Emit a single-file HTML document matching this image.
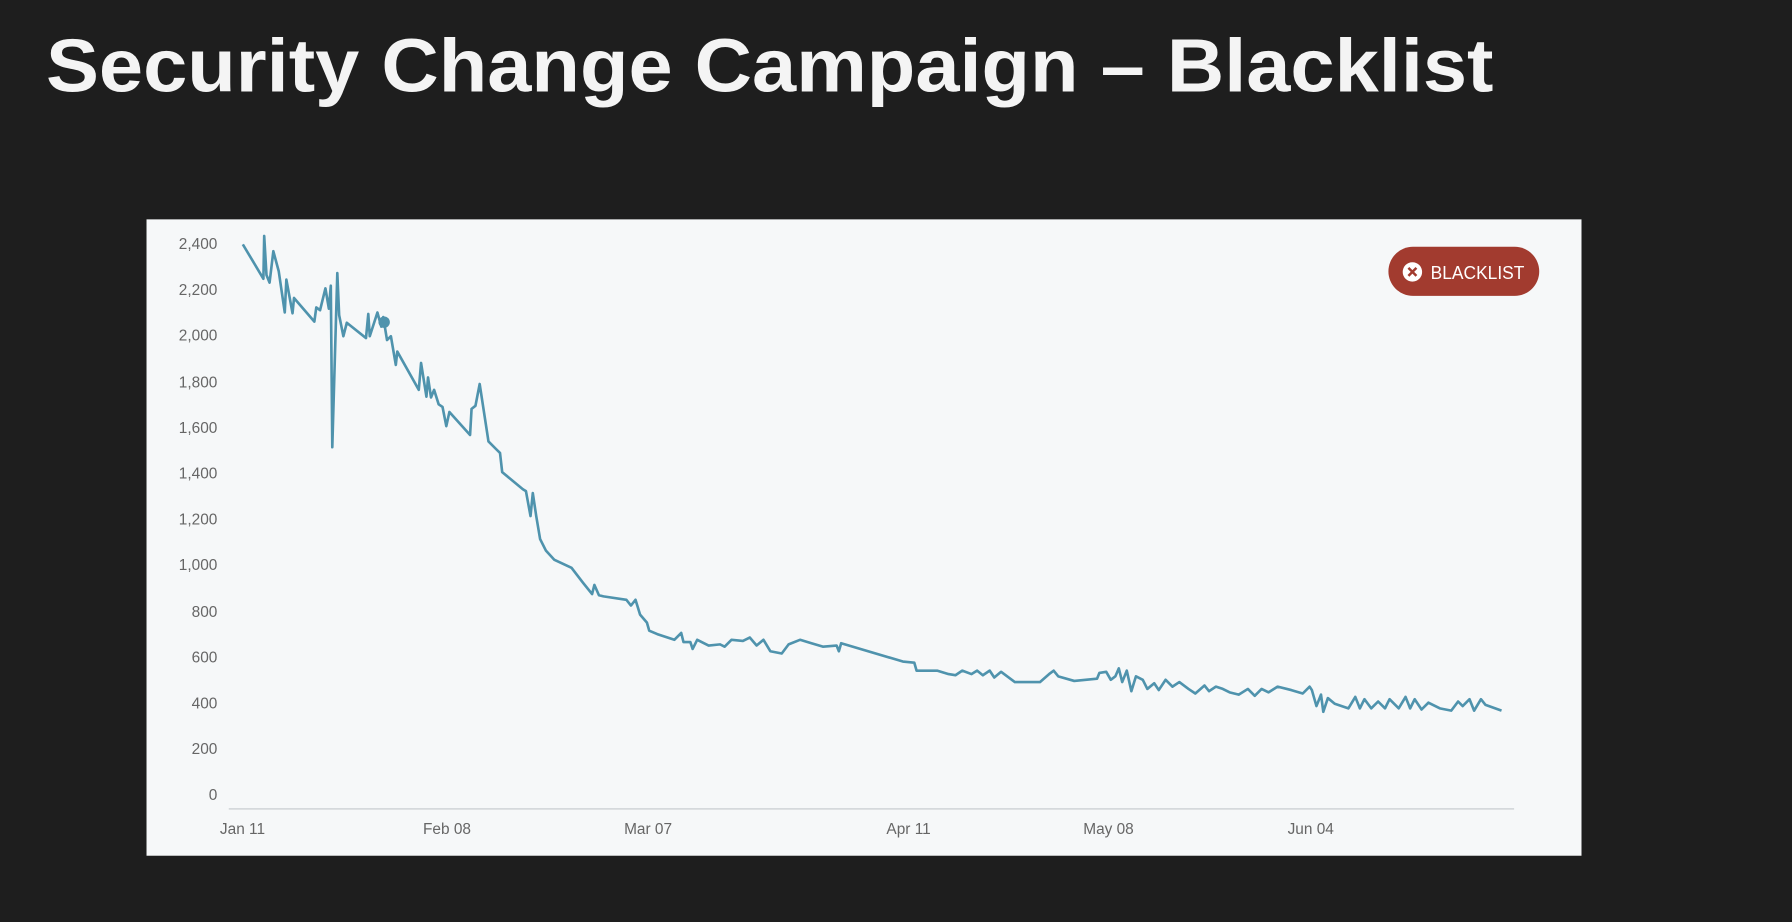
<!DOCTYPE html>
<html><head><meta charset="utf-8"><style>
html,body{margin:0;padding:0;background:#1e1e1e;width:1792px;height:922px;overflow:hidden}
</style></head><body>
<svg width="1792" height="922" viewBox="0 0 1568 807" xmlns="http://www.w3.org/2000/svg" style="display:block">
<rect width="1568" height="807" fill="#1e1e1e"/>
<text x="40" y="80" font-family="Liberation Sans, sans-serif" font-weight="bold" font-size="66" fill="#f4f4f4" textLength="1267" lengthAdjust="spacingAndGlyphs">Security Change Campaign –  Blacklist</text>
<rect x="128" y="192" width="1256" height="557" fill="#f6f8f9"/>
<g font-family="Liberation Sans, sans-serif" font-size="13.5" fill="#666" text-anchor="end">
<text x="190" y="218">2,400</text><text x="190" y="258">2,200</text><text x="190" y="298">2,000</text>
<text x="190" y="339">1,800</text><text x="190" y="379">1,600</text><text x="190" y="419">1,400</text>
<text x="190" y="459">1,200</text><text x="190" y="499">1,000</text><text x="190" y="540">800</text>
<text x="190" y="580">600</text><text x="190" y="620">400</text><text x="190" y="660">200</text>
<text x="190" y="700">0</text>
</g>
<line x1="200" y1="708" x2="1325" y2="708" stroke="#d5d9dc" stroke-width="1.5"/>
<g font-family="Liberation Sans, sans-serif" font-size="13.5" fill="#666" text-anchor="middle">
<text x="212" y="730">Jan 11</text><text x="391" y="730">Feb 08</text><text x="567" y="730">Mar 07</text>
<text x="795" y="730">Apr 11</text><text x="970" y="730">May 08</text><text x="1147" y="730">Jun 04</text>
</g>
<polyline fill="none" stroke="#4f93ad" stroke-width="2.3" stroke-linejoin="round" points="212.3,213.9 230.3,244 231,206.5 233,240.7 235.7,247.4 239,219.9 243.7,237.3 249,273.5 250.4,244.7 255.8,274.2 257.1,260.8 274.9,281.5 276.6,269.1 279.9,271.5 284.6,252.4 287.6,270.2 289.3,250.1 290.6,391.4 295,239 296.6,275.8 300.3,294.3 303.3,282.5 320.1,295.9 322.1,274.8 323.4,294.3 330.1,273.5 333.5,285.9 335.2,277.5 338.5,297.6 341.9,294.3 346.2,319.4 347.5,307.7 366.3,341.2 368.3,317.7 373,347.2 374.4,330.4 377,347.9 379.7,341.2 383.7,353.9 387.1,356.2 390.4,373 393.1,360.6 411.2,380.7 412.5,357.9 415.9,355.2 419.6,336.1 427.3,386.4 434,393.1 437.4,396.4 439.3,413.2 457.4,428.2 460.1,429.9 464.1,451.7 466.1,431.6 469.1,451.7 472.5,471.8 477.5,481.8 485,490 500,497 510,510 518,520 520,512 524,521 528,522 548,525 552,530 556,525 560,538 566,545 568,552 575,555 590,560 596,554 598,562 604,562 606,568 610,560 620,565 630,564 634,566 640,560 650,561 656,558 662,565 668,560 674,570 684,572 690,564 700,560 710,563 720,566 732,565 734,570 736,563 790,579 800,580 802,587 820,587 830,590 836,591 842,587 850,590 855,587 860,591 866,587 870,593 876,588 888,597 910,597 918,590 922,587 926,592 940,596 960,594 962,589 968,588 972,595 976,592 979,585 982,597 986,587 990,605 994,592 1000,595 1004,603 1010,598 1014,604 1020,595 1026,601 1032,597 1040,603 1046,607 1054,600 1058,605 1064,601 1070,603 1076,606 1084,608 1092,603 1098,609 1104,603 1110,606 1118,601 1130,604 1140,607 1146,601 1148,604 1152,618 1156,608 1158,623 1162,611 1168,616 1180,620 1186,610 1190,620 1194,612 1200,620 1206,614 1212,620 1216,612 1224,620 1230,610 1234,620 1238,612 1244,621 1250,615 1260,620 1270,622 1276,614 1280,618 1286,612 1290,622 1296,612 1300,617 1314,622"/>
<circle cx="336" cy="282" r="5" fill="#4f93ad"/>
<rect x="1215" y="216" width="132" height="43" rx="21.5" fill="#a23b2f"/>
<circle cx="1236" cy="238" r="8.5" fill="#fff"/>
<path d="M1232.5 234.5 L1239.5 241.5 M1239.5 234.5 L1232.5 241.5" stroke="#a23b2f" stroke-width="2.2"/>
<text x="1252" y="244" font-family="Liberation Sans, sans-serif" font-size="16" fill="#fff" textLength="82" lengthAdjust="spacingAndGlyphs">BLACKLIST</text>
</svg>
</body></html>
